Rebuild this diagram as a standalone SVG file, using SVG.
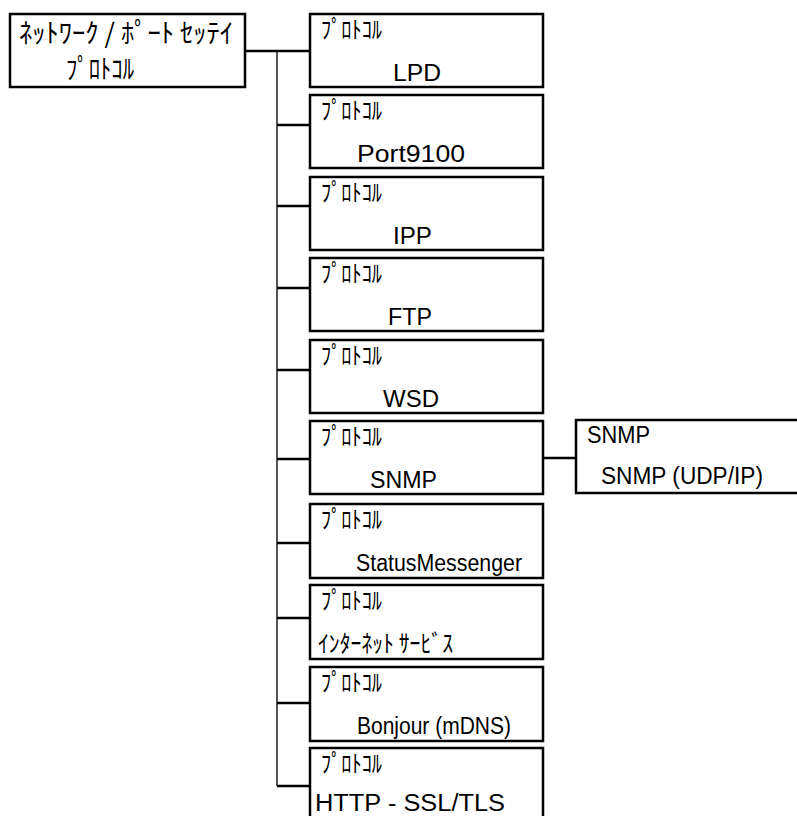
<svg xmlns="http://www.w3.org/2000/svg" width="797" height="816" viewBox="0 0 797 816">
<style>
.box{fill:#fff;stroke:#000;stroke-width:2.5}
.jp{font-family:"Noto Sans CJK JP","Liberation Sans",sans-serif;font-size:24px;font-weight:400;fill:#000}
.jr{font-family:"Noto Sans CJK JP","Liberation Sans",sans-serif;font-size:27px;font-weight:400;fill:#000}
.en{font-family:"Liberation Sans",Arial,sans-serif;font-size:23px;fill:#000}
.c{stroke:#000;stroke-width:2.5;fill:none}
.t{stroke:#555;stroke-width:2;fill:none}
</style>
<rect width="797" height="816" fill="#fff"/>
<g id="connectors">
<line class="t" x1="277" y1="51" x2="277" y2="786"/>
<line class="c" x1="245" y1="51" x2="310" y2="51"/>
<line class="c" x1="277" y1="125" x2="310" y2="125"/>
<line class="c" x1="277" y1="206" x2="310" y2="206"/>
<line class="c" x1="277" y1="288" x2="310" y2="288"/>
<line class="c" x1="277" y1="370" x2="310" y2="370"/>
<line class="c" x1="277" y1="459" x2="310" y2="459"/>
<line class="c" x1="277" y1="543" x2="310" y2="543"/>
<line class="c" x1="277" y1="618" x2="310" y2="618"/>
<line class="c" x1="277" y1="703" x2="310" y2="703"/>
<line class="c" x1="277" y1="786" x2="310" y2="786"/>
<line class="c" x1="543" y1="458" x2="576" y2="458"/>
</g>
<g id="root">
<rect class="box" x="10" y="14" width="235" height="73"/>
<text class="jr" x="19" y="43" textLength="214" lengthAdjust="spacingAndGlyphs">ﾈｯﾄﾜｰｸ / ﾎﾟｰﾄ ｾｯﾃｲ</text>
<text class="jr" x="66" y="79" textLength="68" lengthAdjust="spacingAndGlyphs">ﾌﾟﾛﾄｺﾙ</text>
</g>
<g id="lpd">
<rect class="box" x="310" y="14" width="233" height="73"/>
<text class="jp" x="321" y="38" textLength="61" lengthAdjust="spacingAndGlyphs">ﾌﾟﾛﾄｺﾙ</text>
<text class="en" x="393" y="81" textLength="48" lengthAdjust="spacingAndGlyphs">LPD</text>
</g>
<g id="port9100">
<rect class="box" x="310" y="95" width="233" height="73"/>
<text class="jp" x="321" y="119" textLength="61" lengthAdjust="spacingAndGlyphs">ﾌﾟﾛﾄｺﾙ</text>
<text class="en" x="357" y="162" textLength="108" lengthAdjust="spacingAndGlyphs">Port9100</text>
</g>
<g id="ipp">
<rect class="box" x="310" y="177" width="233" height="73"/>
<text class="jp" x="321" y="201" textLength="61" lengthAdjust="spacingAndGlyphs">ﾌﾟﾛﾄｺﾙ</text>
<text class="en" x="393" y="244" textLength="39" lengthAdjust="spacingAndGlyphs">IPP</text>
</g>
<g id="ftp">
<rect class="box" x="310" y="258" width="233" height="73"/>
<text class="jp" x="321" y="282" textLength="61" lengthAdjust="spacingAndGlyphs">ﾌﾟﾛﾄｺﾙ</text>
<text class="en" x="388" y="325" textLength="44" lengthAdjust="spacingAndGlyphs">FTP</text>
</g>
<g id="wsd">
<rect class="box" x="310" y="340" width="233" height="73"/>
<text class="jp" x="321" y="364" textLength="61" lengthAdjust="spacingAndGlyphs">ﾌﾟﾛﾄｺﾙ</text>
<text class="en" x="383" y="407" textLength="56" lengthAdjust="spacingAndGlyphs">WSD</text>
</g>
<g id="snmp">
<rect class="box" x="310" y="421" width="233" height="73"/>
<text class="jp" x="321" y="445" textLength="61" lengthAdjust="spacingAndGlyphs">ﾌﾟﾛﾄｺﾙ</text>
<text class="en" x="370" y="488" textLength="67" lengthAdjust="spacingAndGlyphs">SNMP</text>
</g>
<g id="snmp-udp">
<rect class="box" x="576" y="420" width="230" height="73"/>
<text class="en" x="587" y="443" textLength="63" lengthAdjust="spacingAndGlyphs">SNMP</text>
<text class="en" x="601" y="484" textLength="162" lengthAdjust="spacingAndGlyphs">SNMP (UDP/IP)</text>
</g>
<g id="statusmessenger">
<rect class="box" x="310" y="504" width="233" height="74"/>
<text class="jp" x="321" y="528" textLength="61" lengthAdjust="spacingAndGlyphs">ﾌﾟﾛﾄｺﾙ</text>
<text class="en" x="356" y="571" textLength="166" lengthAdjust="spacingAndGlyphs">StatusMessenger</text>
</g>
<g id="internet">
<rect class="box" x="310" y="585" width="233" height="74"/>
<text class="jp" x="321" y="609" textLength="61" lengthAdjust="spacingAndGlyphs">ﾌﾟﾛﾄｺﾙ</text>
<text class="jp" x="318" y="652" textLength="135" lengthAdjust="spacingAndGlyphs">ｲﾝﾀｰﾈｯﾄ ｻｰﾋﾞｽ</text>
</g>
<g id="bonjour">
<rect class="box" x="310" y="667" width="233" height="74"/>
<text class="jp" x="321" y="691" textLength="61" lengthAdjust="spacingAndGlyphs">ﾌﾟﾛﾄｺﾙ</text>
<text class="en" x="357" y="734" textLength="154" lengthAdjust="spacingAndGlyphs">Bonjour (mDNS)</text>
</g>
<g id="http">
<rect class="box" x="310" y="748" width="233" height="74"/>
<text class="jp" x="321" y="772" textLength="61" lengthAdjust="spacingAndGlyphs">ﾌﾟﾛﾄｺﾙ</text>
<text class="en" x="315" y="811" textLength="190" lengthAdjust="spacingAndGlyphs">HTTP - SSL/TLS</text>
</g>
</svg>
